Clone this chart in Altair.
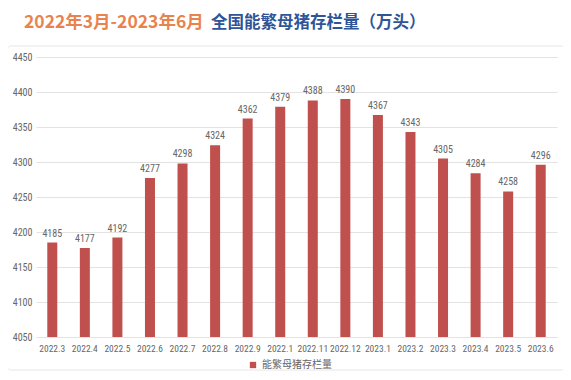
import altair as alt
import pandas as pd

months = ["2022.3", "2022.4", "2022.5", "2022.6", "2022.7", "2022.8", "2022.9", "2022.1",
          "2022.11", "2022.12", "2023.1", "2023.2", "2023.3", "2023.4", "2023.5", "2023.6"]
values = [4185, 4177, 4192, 4277, 4298, 4324, 4362, 4379,
          4388, 4390, 4367, 4343, 4305, 4284, 4258, 4296]
series_name = "能繁母猪存栏量"
title_a = "2022年3月-2023年6月"
title_b = "全国能繁母猪存栏量（万头）"
y_ticks = [4050, 4100, 4150, 4200, 4250, 4300, 4350, 4400, 4450]

df = pd.DataFrame({"month": months, "value": values, "series": [series_name] * len(months)})

FONT = "Noto Sans CJK SC"
NUMFONT = "Liberation Sans Narrow, Roboto Condensed, DejaVu Sans Condensed, sans-serif"
BAR = "#C0504D"
LBL = "#666666"

xenc = alt.X("month:N", sort=months, title=None,
             axis=alt.Axis(labelAngle=0, domain=False, ticks=False, labelPadding=6,
                           labelOverlap=False,
                           labelFontSize=9.5, labelColor=LBL, labelFont=NUMFONT))
yenc = alt.Y("value:Q", title=None,
             scale=alt.Scale(domain=[4050, 4450], zero=False, nice=False),
             axis=alt.Axis(values=y_ticks, format="d", domain=False, ticks=False, labelPadding=4,
                           labelOverlap=False,
                           labelFontSize=10, labelColor=LBL, labelFont=NUMFONT,
                           gridColor="#e3e3e3"))

base = alt.Chart(df)

bars = base.mark_bar(size=10, color=BAR).encode(
    x=xenc,
    y=yenc,
    y2=alt.datum(4050),
    color=alt.Color("series:N", scale=alt.Scale(range=[BAR]),
                    legend=alt.Legend(title=None, orient="none", legendX=212, legendY=303,
                                      symbolType="square", symbolSize=40,
                                      labelFontSize=10, labelColor=LBL, labelFont=FONT)),
)

labels = base.mark_text(dy=-9, fontSize=10, color=LBL, font=NUMFONT).encode(
    x=xenc,
    y=yenc,
    text=alt.Text("value:Q"),
)

border = alt.Chart(pd.DataFrame({"a": [0]})).mark_rect(
    fillOpacity=0, stroke="#e6e6e6", strokeWidth=1, cornerRadius=4
).encode(x=alt.value(-29), x2=alt.value(529), y=alt.value(-11), y2=alt.value(313))

t1 = alt.Chart(pd.DataFrame({"t": [title_a]})).mark_text(
    align="left", baseline="middle", fontSize=17.5, fontWeight="bold", font=FONT, color="#E9834E"
).encode(x=alt.value(-12), y=alt.value(-34), text="t:N")

t2 = alt.Chart(pd.DataFrame({"t": [title_b]})).mark_text(
    align="left", baseline="middle", fontSize=16.5, fontWeight="bold", font=FONT, color="#2F5597"
).encode(x=alt.value(175), y=alt.value(-34), text="t:N")

chart = alt.layer(border, bars, labels, t1, t2).properties(
    width=521, height=280,
    autosize=alt.AutoSizeParams(type="none"),
    padding={"left": 28, "top": 49, "right": 6, "bottom": 35},
    background="white",
).configure_view(stroke=None)

chart.save("out.html", embed_options={"renderer": "svg", "actions": False})
